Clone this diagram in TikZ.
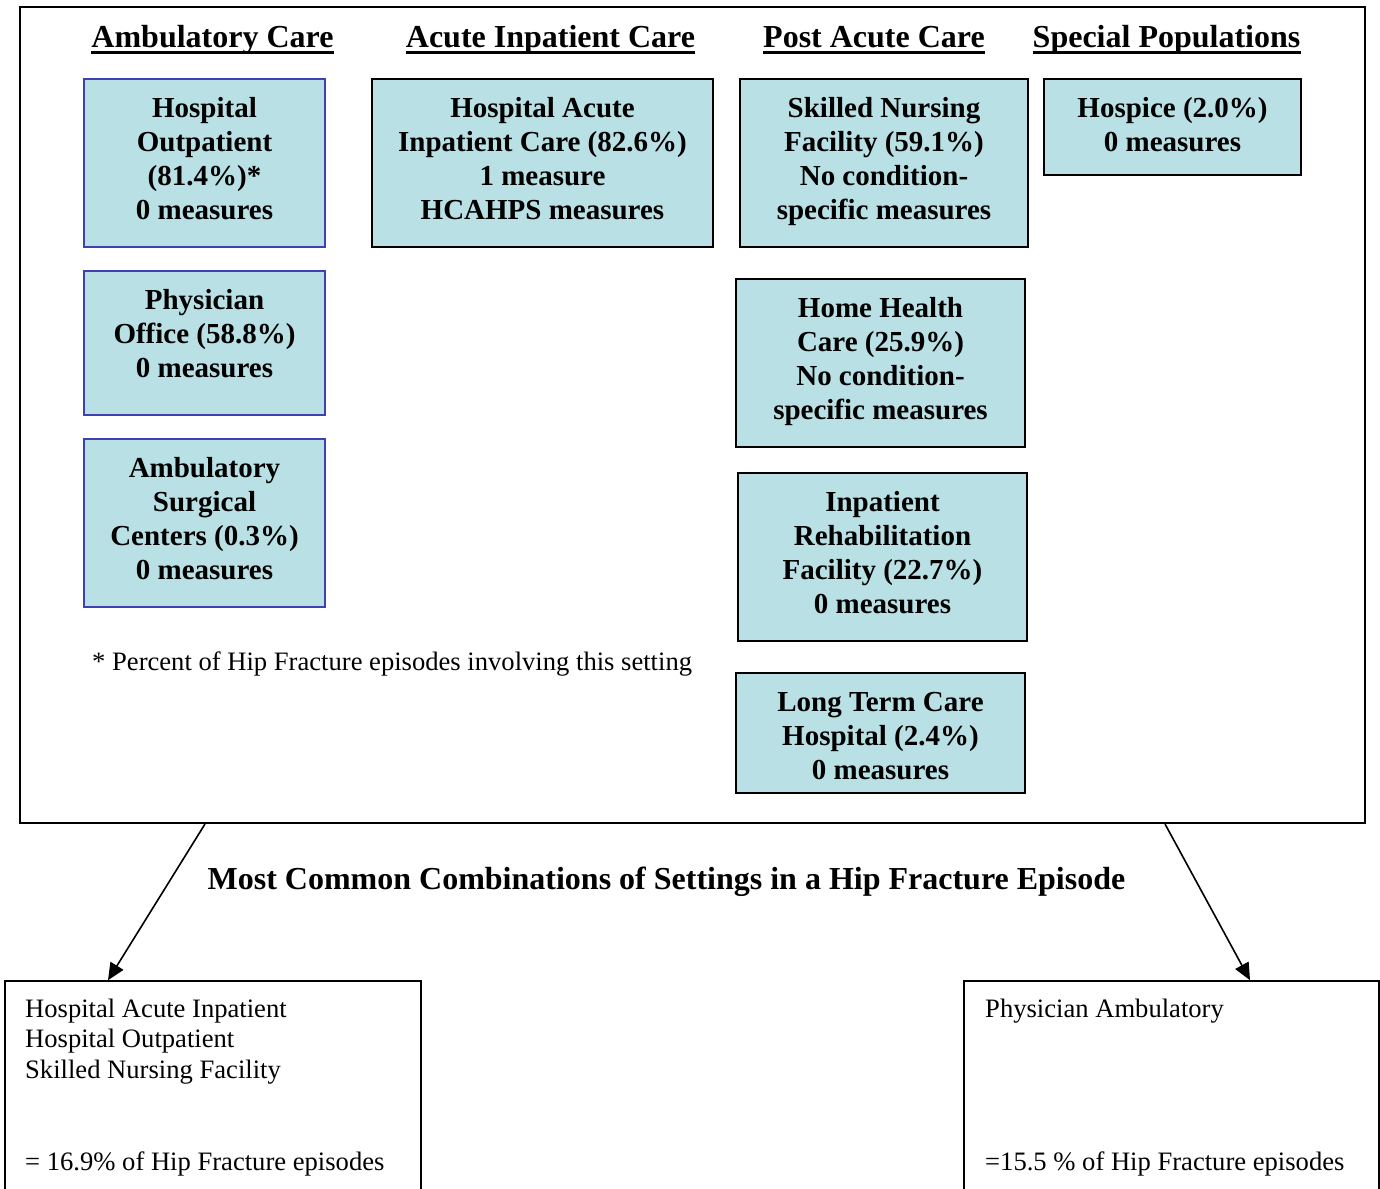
\documentclass[tikz,border=0pt]{standalone}
\usepackage{fontspec}
\setmainfont{Liberation Serif}
\usetikzlibrary{arrows.meta,calc}
\definecolor{cellfill}{RGB}{185,224,228}
\definecolor{cellblue}{RGB}{64,64,176}
\begin{document}
\begin{tikzpicture}[x=1pt,y=-1pt,
  cell/.style={draw=black,fill=cellfill,line width=2pt,inner sep=0pt,align=center,
    font=\fontsize{29}{34}\selectfont\bfseries},
  bluecell/.style={cell,draw=cellblue},
  % text height/depth pin the first line 38pt below the top edge of a cell
  % (#1 = number of lines, #2 = cell height)
  rows/.style 2 args={text height={38pt+(#1-1)*34pt},text depth={#2pt-38pt-(#1-1)*34pt},
    minimum height=#2pt},
  heading/.style={inner sep=0pt,anchor=base,font=\fontsize{32}{36}\selectfont\bfseries},
  plain/.style={inner sep=0pt,align=left,font=\fontsize{26.6}{30.5}\selectfont},
  combo/.style={draw=black,line width=1.6pt,inner sep=0pt},
  arr/.style={line width=1.6pt,-{Triangle[length=17pt,width=15pt]}}]
\useasboundingbox (0,0) rectangle (1380,1188);
\clip (0,0) rectangle (1380,1188);

% outer frame holding all care settings
\node[draw=black,line width=2pt,inner sep=0pt,minimum width=1345pt,minimum height=816pt]
  (frame) at (692.5,415) {};

% column headings
\node[heading] (h1) at (212.5,48) {Ambulatory Care};
\node[heading] (h2) at (550.5,48) {Acute Inpatient Care};
\node[heading] (h3) at (874,48) {Post Acute Care};
\node[heading] (h4) at (1166.5,48) {Special Populations};
\foreach \h in {h1,h2,h3,h4}
  \draw[line width=2.6pt] ([yshift=-4.5pt]\h.base west) -- ([yshift=-4.5pt]\h.base east);

% ambulatory care
\node[bluecell,minimum width=241pt,rows={4}{168}] (ho) at (204.5,163)
  {Hospital\\Outpatient\\(81.4\%)*\\0 measures};
\node[bluecell,minimum width=241pt,rows={3}{144}] (po) at (204.5,343)
  {Physician\\Office (58.8\%)\\0 measures};
\node[bluecell,minimum width=241pt,rows={4}{168}] (asc) at (204.5,523)
  {Ambulatory\\Surgical\\Centers (0.3\%)\\0 measures};

% acute inpatient care
\node[cell,minimum width=341pt,rows={4}{168}] (haic) at (542.5,163)
  {Hospital Acute\\Inpatient Care (82.6\%)\\1 measure\\HCAHPS measures};

% post acute care
\node[cell,minimum width=288pt,rows={4}{168}] (snf) at (884,163)
  {Skilled Nursing\\Facility (59.1\%)\\No condition-\\specific measures};
\node[cell,minimum width=289pt,rows={4}{168}] (hhc) at (880.5,363)
  {Home Health\\Care (25.9\%)\\No condition-\\specific measures};
\node[cell,minimum width=289pt,rows={4}{168}] (irf) at (882.5,557)
  {Inpatient\\Rehabilitation\\Facility (22.7\%)\\0 measures};
\node[cell,minimum width=289pt,rows={3}{120}] (ltch) at (880.5,733)
  {Long Term Care\\Hospital (2.4\%)\\0 measures};

% special populations
\node[cell,minimum width=257pt,rows={2}{96}] (hosp) at (1172.5,127)
  {Hospice (2.0\%)\\0 measures};

% footnote
\node[plain,anchor=base west] (note) at (92,670)
  {* Percent of Hip Fracture episodes involving this setting};

% title
\node[inner sep=0pt,anchor=base,font=\fontsize{32}{36}\selectfont\bfseries] (title) at (666.5,889)
  {Most Common Combinations of Settings in a Hip Fracture Episode};

% combination boxes
\node[combo,minimum width=416pt,minimum height=240pt] (bl) at (213,1101) {};
\node[combo,minimum width=415pt,minimum height=240pt] (br) at (1171.5,1101) {};

% multi-line text: the base anchor sits on the last line
\node[plain,anchor=base west] (bltext) at (25,1078)
  {Hospital Acute Inpatient\\Hospital Outpatient\\Skilled Nursing Facility};
\node[plain,anchor=base west] (blpct) at (25,1170) {= 16.9\% of Hip Fracture episodes};
\node[plain,anchor=base west] (brtext) at (985,1017) {Physician Ambulatory};
\node[plain,anchor=base west] (brpct) at (985,1170) {=15.5 \% of Hip Fracture episodes};

% arrows from the frame to the combinations
\coordinate (s1) at (205,0);
\coordinate (t1) at (108,0);
\coordinate (s2) at (1165,0);
\coordinate (t2) at (1250,0);
\draw[arr] (frame.south -| s1) -- (bl.north -| t1);
\draw[arr] (frame.south -| s2) -- (br.north -| t2);
\end{tikzpicture}
\end{document}
